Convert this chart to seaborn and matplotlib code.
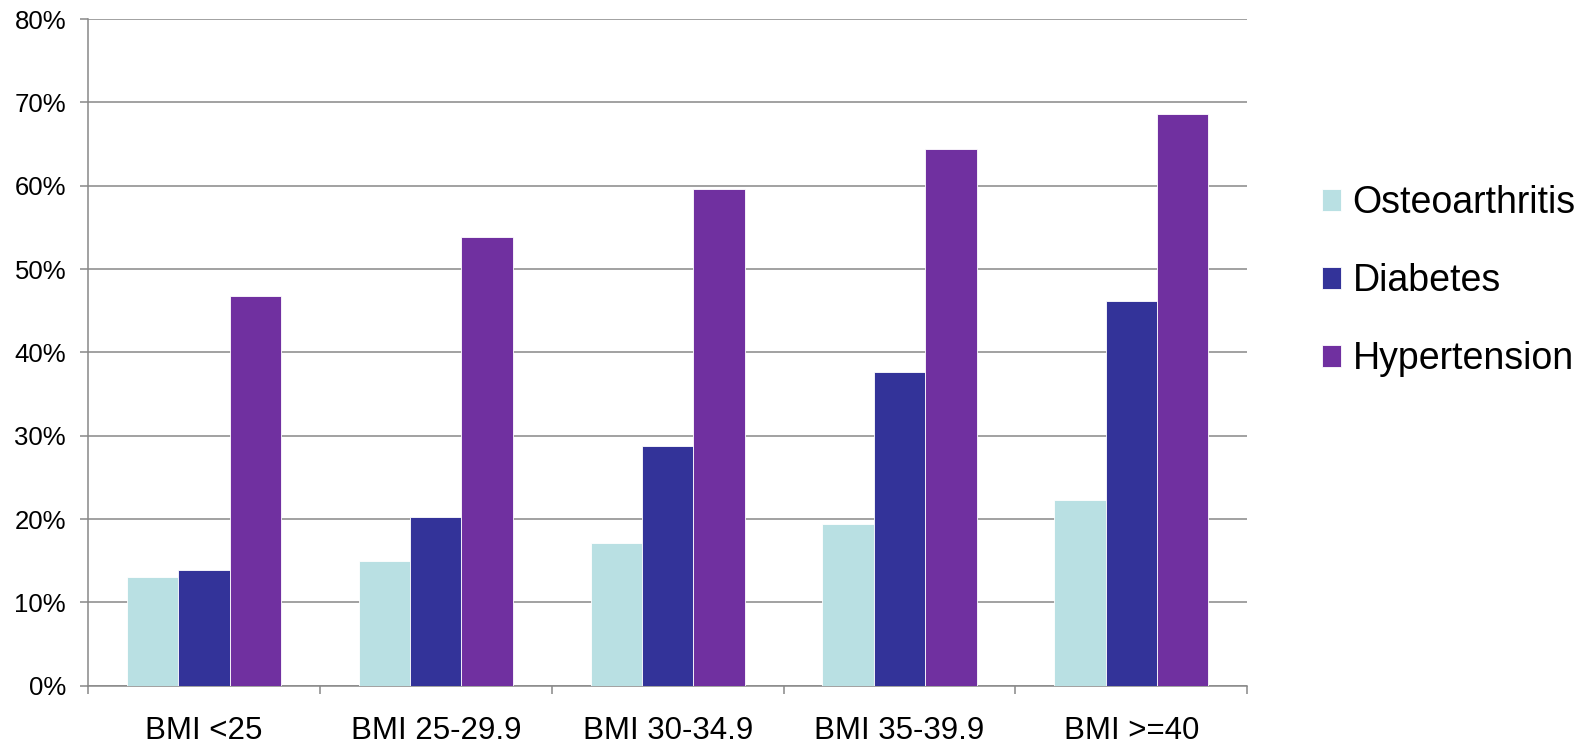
import matplotlib
matplotlib.use("Agg")
import matplotlib.pyplot as plt
from matplotlib.ticker import FuncFormatter, FixedLocator
import seaborn as sns
import pandas as pd

# Share of patients with each condition, by BMI band (fractions)
bmi_groups = ["BMI <25", "BMI 25-29.9", "BMI 30-34.9", "BMI 35-39.9", "BMI >=40"]
osteoarthritis = [0.130, 0.150, 0.171, 0.194, 0.223]
diabetes = [0.139, 0.203, 0.288, 0.377, 0.462]
hypertension = [0.468, 0.538, 0.596, 0.644, 0.686]
conditions = ["Osteoarthritis", "Diabetes", "Hypertension"]
y_ticks = [0.0, 0.1, 0.2, 0.3, 0.4, 0.5, 0.6, 0.7, 0.8]

colors = {"Osteoarthritis": "#B9E0E3", "Diabetes": "#333399", "Hypertension": "#7030A0"}
grid_gray = "#888888"

rows = []
for cond, vals in zip(conditions, [osteoarthritis, diabetes, hypertension]):
    for g, v in zip(bmi_groups, vals):
        rows.append({"group": g, "condition": cond, "share": v})
df = pd.DataFrame(rows)

sns.set_theme(style="white")
plt.rcParams["font.family"] = ["Liberation Sans", "DejaVu Sans"]
plt.rcParams["text.color"] = "black"

fig = plt.figure(figsize=(15.83, 7.51), dpi=100)
ax = fig.add_axes([0.0556, 0.0869, 0.7323, 0.8878])

sns.barplot(data=df, x="group", y="share", hue="condition",
            order=bmi_groups, hue_order=conditions, palette=colors,
            width=0.665, gap=0, saturation=1, edgecolor="white", linewidth=0.6,
            errorbar=None, ax=ax, zorder=3)

ax.set_xlim(-0.5, len(bmi_groups) - 0.5)
ax.set_ylim(0, 0.8)
ax.set_yticks(y_ticks)
ax.yaxis.set_major_formatter(FuncFormatter(lambda v, p: f"{v * 100:.0f}%"))
ax.yaxis.grid(True, color=grid_gray, linewidth=1.1, zorder=0)
ax.set_axisbelow(True)

ax.set_xlabel("")
ax.set_ylabel("")

# category separators as minor ticks on the x axis
ax.xaxis.set_minor_locator(FixedLocator([i - 0.5 for i in range(len(bmi_groups) + 1)]))
ax.tick_params(axis="x", which="major", length=0, pad=22, labelsize=22.5, labelcolor="black")
ax.tick_params(axis="x", which="minor", length=6, width=1.1, color=grid_gray, direction="out", bottom=True)
ax.tick_params(axis="y", which="major", length=5.8, width=1.1, color=grid_gray, direction="out",
               left=True, pad=10, labelsize=18.5, labelcolor="black")

for side in ["top", "right"]:
    ax.spines[side].set_visible(False)
for side in ["left", "bottom"]:
    ax.spines[side].set_color(grid_gray)
    ax.spines[side].set_linewidth(1.1)

handles, labels = ax.get_legend_handles_labels()
leg = ax.legend(handles, labels, loc="center left", bbox_to_anchor=(0.835, 0.626),
                bbox_transform=fig.transFigure, frameon=False, fontsize=27,
                handlelength=0.52, handleheight=0.52, handletextpad=0.3,
                labelspacing=1.12, borderpad=0, borderaxespad=0)
for t in leg.get_texts():
    t.set_color("black")

fig.savefig("out.png", dpi=100)
